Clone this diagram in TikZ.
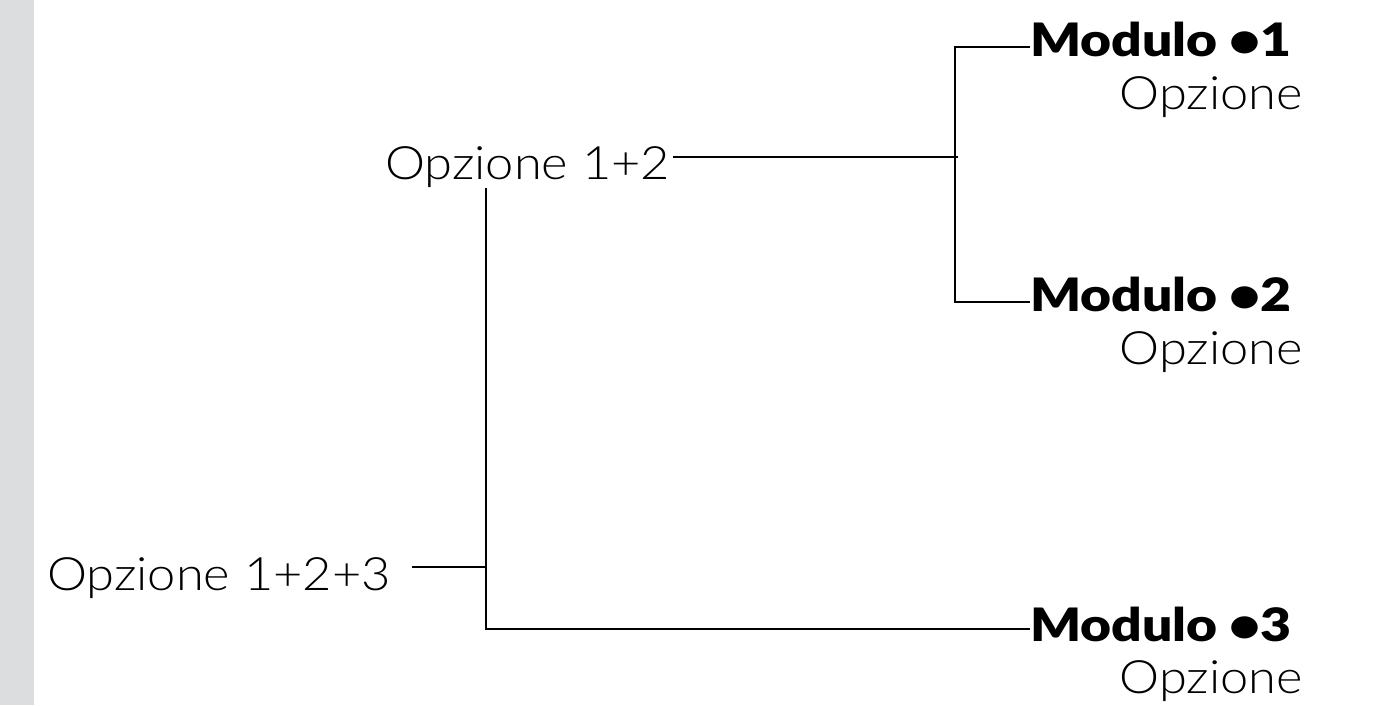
\documentclass[tikz,border=0pt]{standalone}
\usepackage{fontspec}
\setmainfont{Lato}[UprightFont={* Light},BoldFont={* Black},
    UprightFeatures={FakeStretch=1.1},BoldFeatures={FakeStretch=1.16}]
\usepackage{tikz}
\usetikzlibrary{positioning,calc}

\definecolor{stripgray}{RGB}{220,221,223}

\begin{document}
\begin{tikzpicture}[
        x=1pt,y=1pt,
        title/.style={inner sep=0pt,anchor=base west,font=\fontsize{46}{46}\selectfont},
        modtag/.style={inner sep=0pt,anchor=base west,font=\fontsize{46}{46}\selectfont\bfseries},
        subtag/.style={inner sep=0pt,anchor=base east,font=\fontsize{46}{46}\selectfont},
        link/.style={line width=2.8pt}
    ]
        \useasboundingbox (0,0) rectangle (1377,705);
        \fill[stripgray] (0,0) rectangle (34,705);

        % Options
        \node (opz123) at (47,115) [title] {Opzione 1+2+3};
        \node (opz12) at (385,525) [title] {Opzione 1+2};

        % Modules
        \node (mod1) at (1030,648) [modtag] {Modulo •1};
            \node (sub1) at (1303,595) [subtag] {Opzione};
        \node (mod2) at (1030,393) [modtag] {Modulo •2};
            \node (sub2) at (1303,340) [subtag] {Opzione};
        \node (mod3) at (1030,64) [modtag] {Modulo •3};
            \node (sub3) at (1303,12) [subtag] {Opzione};

        % Junctions
        \coordinate (j12) at (955,548);
        \coordinate (j123) at (486,138);
        \coordinate (a123) at (412,138);

        % Lines
        \draw[link] ([xshift=3pt]opz12.east |- j12) -- ([xshift=3pt]j12);
        \draw[link] ([yshift=10pt]mod1.base west) -| (j12) |- ([yshift=10pt]mod2.base west);
        \draw[link] (a123) -- (j123);
        \draw[link] (j123 |- opz12.south) |- ([yshift=12pt]mod3.base west);
    \end{tikzpicture}
\end{document}
